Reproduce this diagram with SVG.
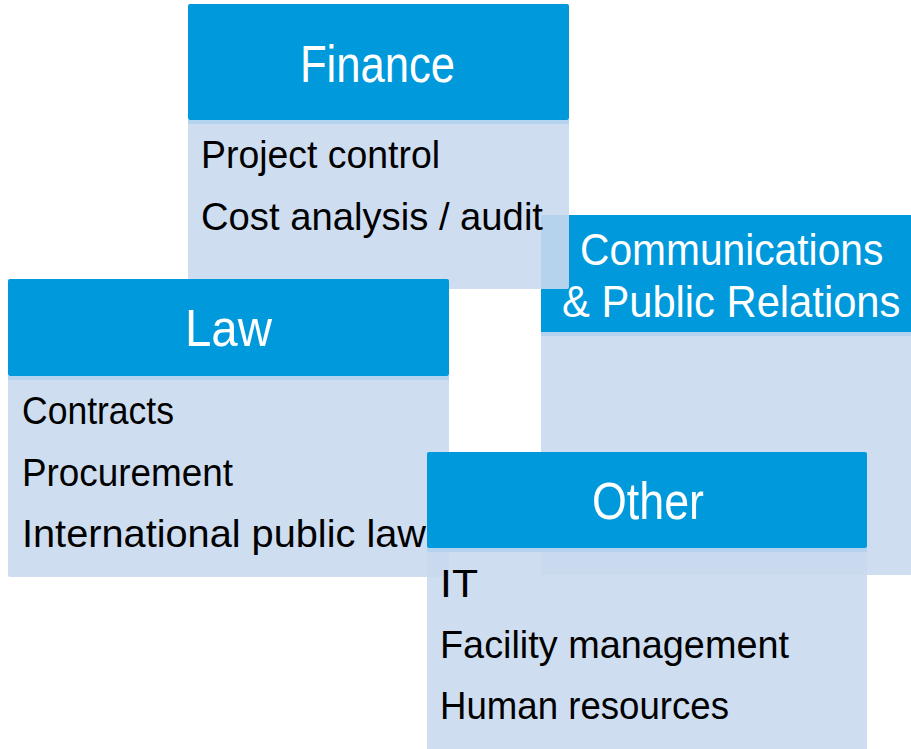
<svg xmlns="http://www.w3.org/2000/svg" width="911" height="749" viewBox="0 0 911 749">
<style>
.hd{fill:#0099db}
.bd{fill:#c9d9ee;fill-opacity:0.9}
.sep{fill:#b3d3ee}
.tt{font-family:"Liberation Sans",Arial,sans-serif;fill:#ffffff;text-anchor:start}
.tx{font-family:"Liberation Sans",Arial,sans-serif;fill:#000000;font-size:39px}
</style>
<rect width="911" height="749" fill="#ffffff"/>
<g id="comms">
<rect class="hd" x="541" y="215" width="370" height="117"/>
<rect class="bd" x="541" y="332" width="370" height="243"/>
<rect class="sep" x="541" y="332" width="370" height="4"/>
<text class="tt" x="0" y="0" font-size="45" transform="translate(580,265) scale(0.9,1)" textLength="337" lengthAdjust="spacingAndGlyphs">Communications</text>
<text class="tt" x="0" y="0" font-size="45" transform="translate(562,317) scale(0.9,1)" textLength="376" lengthAdjust="spacingAndGlyphs">&amp; Public Relations</text>
</g>
<g id="finance">
<rect class="hd" x="188" y="4" width="381" height="116" rx="2"/>
<rect class="bd" x="188" y="120" width="381" height="169" rx="2"/>
<rect class="sep" x="188" y="120" width="381" height="4"/>
<text class="tt" x="300" y="82" font-size="52" textLength="155" lengthAdjust="spacingAndGlyphs">Finance</text>
<text class="tx" x="201" y="168" textLength="239" lengthAdjust="spacingAndGlyphs">Project control</text>
<text class="tx" x="201" y="230" textLength="342" lengthAdjust="spacingAndGlyphs">Cost analysis / audit</text>
</g>
<g id="law">
<rect class="hd" x="8" y="279" width="441" height="97" rx="2"/>
<rect class="bd" x="8" y="376" width="441" height="201" rx="2"/>
<rect class="sep" x="8" y="376" width="441" height="4"/>
<text class="tt" x="185" y="346" font-size="52" textLength="87" lengthAdjust="spacingAndGlyphs">Law</text>
<text class="tx" x="22" y="424" textLength="152" lengthAdjust="spacingAndGlyphs">Contracts</text>
<text class="tx" x="22" y="486" textLength="211" lengthAdjust="spacingAndGlyphs">Procurement</text>
<text class="tx" x="22" y="547" textLength="404" lengthAdjust="spacingAndGlyphs">International public law</text>
</g>
<g id="other">
<rect class="hd" x="427" y="452" width="440" height="96" rx="2"/>
<rect class="bd" x="427" y="548" width="440" height="201"/>
<rect class="sep" x="427" y="548" width="440" height="4"/>
<text class="tt" x="592" y="519" font-size="52" textLength="112" lengthAdjust="spacingAndGlyphs">Other</text>
<text class="tx" x="440" y="597" textLength="38" lengthAdjust="spacingAndGlyphs">IT</text>
<text class="tx" x="440" y="658" textLength="349" lengthAdjust="spacingAndGlyphs">Facility management</text>
<text class="tx" x="440" y="719" textLength="289" lengthAdjust="spacingAndGlyphs">Human resources</text>
</g>
<g id="connectors"></g>
</svg>
